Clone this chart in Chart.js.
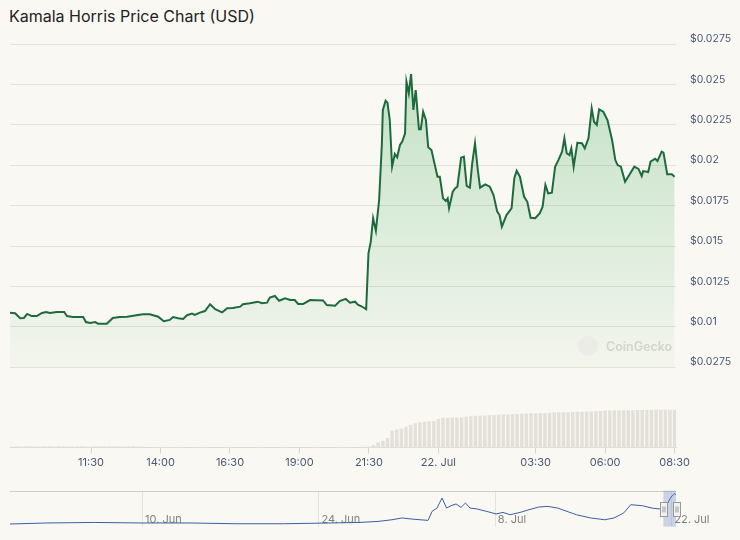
<!DOCTYPE html>
<html><head><meta charset="utf-8">
<script src="https://cdn.jsdelivr.net/npm/chart.js@4/dist/chart.umd.min.js"></script>
<style>
html,body{margin:0;padding:0;background:#faf8f3;}
#wrap{position:relative;width:740px;height:540px;overflow:hidden;background:#faf8f3;font-family:Inter,'Noto Sans',sans-serif;}
#title{position:absolute;left:9px;top:6px;font-size:16px;line-height:20px;color:#222;font-family:Inter,sans-serif;white-space:nowrap;}
canvas{position:absolute;left:0;}
#cPrice{top:30px;}
#cVol{top:360px;}
#cNav{top:485px;}
#cg{position:absolute;left:578px;top:336px;height:20px;display:flex;align-items:center;gap:8px;}
#cg .dot{width:20px;height:20px;border-radius:50%;background:#ebebe8;display:inline-block;}
#cg .txt{font:600 12.5px Inter,sans-serif;color:#d3d3d1;}
</style></head>
<body><div id="wrap">
<div id="title">Kamala Horris Price Chart (USD)</div>
<canvas id="cPrice" width="740" height="345"></canvas>
<div id="cg"><span class="dot"></span><span class="txt">CoinGecko</span></div>
<canvas id="cVol" width="740" height="120"></canvas>
<canvas id="cNav" width="740" height="50"></canvas>
</div>
<script>
// ---- price series (minutes since 21 Jul 00:00, USD) ----
const priceTimes = [515,526,537,545,552,562,573,584,593,601,616,632,638,651,673,679,688,699,705,724,
737,752,768,781,802,817,835,847,860,867,878,889,897,908,914,925,936,947,958,973,
984,996,1012,1018,1033,1050,1059,1070,1076,1087,1096,1109,1120,1130,1137,1148,1163,1191,1199,1217,
1227,1240,1249,1260,1266,1275,1284,1289,1294,1299,1305,1312,1318,1320,1326,1330,1335,1340,1346,1351,
1357,1362,1368,1371,1376,1381,1386,1391,1398,1402,1407,1413,1418,1425,1438,1443,1450,1456,1460,1463,
1471,1476,1481,1489,1495,1501,1508,1513,1519,1525,1530,1541,1551,1559,1567,1572,1577,1587,1598,1604,
1609,1616,1625,1632,1639,1649,1659,1665,1671,1677,1685,1692,1699,1707,1712,1717,1723,1727,1732,1740,
1750,1756,1764,1771,1776,1782,1787,1796,1805,1815,1822,1827,1834,1843,1852,1863,1872,1879,1882,1893,
1898,1908,1913,1922,1926,1934,1944,1950];
const prices = [0.01088,0.01084,0.01053,0.01055,0.01080,0.01067,0.01067,0.01086,0.01092,0.01086,0.01092,0.01092,0.01067,0.01061,0.01061,0.01030,0.01024,0.01030,0.01020,0.01020,
0.01055,0.01061,0.01063,0.01069,0.01078,0.01078,0.01063,0.01035,0.01043,0.01061,0.01053,0.01049,0.01072,0.01082,0.01074,0.01088,0.01098,0.01140,0.01109,0.01090,
0.01115,0.01117,0.01125,0.01140,0.01146,0.01156,0.01146,0.01150,0.01181,0.01191,0.01162,0.01177,0.01166,0.01166,0.01142,0.01142,0.01166,0.01164,0.01135,0.01131,
0.01160,0.01173,0.01150,0.01156,0.01137,0.01126,0.01109,0.01455,0.01527,0.01672,0.01595,0.01785,0.02136,0.02342,0.02399,0.02387,0.02280,0.01991,0.02070,0.02049,
0.02125,0.02146,0.02198,0.02517,0.02445,0.02564,0.02342,0.02465,0.02222,0.02222,0.02331,0.02280,0.02111,0.02094,0.01929,0.01929,0.01795,0.01779,0.01795,0.01734,
0.01836,0.01857,0.01867,0.02047,0.02053,0.01872,0.01861,0.02012,0.02136,0.01971,0.01861,0.01882,0.01867,0.01816,0.01713,0.01692,0.01620,0.01692,0.01734,0.01921,
0.01966,0.01929,0.01805,0.01774,0.01675,0.01672,0.01703,0.01744,0.01878,0.01826,0.01830,0.01991,0.02032,0.02084,0.02167,0.02074,0.02063,0.02105,0.01991,0.02139,
0.02136,0.02105,0.02167,0.02352,0.02269,0.02249,0.02346,0.02331,0.02280,0.02156,0.02032,0.02001,0.01991,0.01898,0.01940,0.01991,0.01977,0.01933,0.01964,0.01958,
0.02022,0.02040,0.02026,0.02084,0.02078,0.01944,0.01944,0.01929];

// ---- volume bars (10-minute bars starting 08:40) ----
const volStartMinute = 520;
const volStepMinutes = 10;
const volumes = [1.6,1.8,1.5,1.7,1.9,1.6,1.5,1.8,1.7,1.6,1.9,1.8,1.5,1.6,1.7,1.8,1.6,1.5,1.7,1.9,1.6,1.8,1.7,1.5,1.6,1.8,1.7,1.6,1.5,
0.4,0.3,0.4,0.5,0.4,0.3,0.4,0.4,0.5,0.3,0.4,0.4,0.3,0.5,0.4,0.4,0.3,0.4,0.5,0.4,0.3,0.4,0.4,0.3,0.4,0.5,0.4,0.3,0.4,0.4,0.5,0.4,0.3,0.4,0.4,0.3,0.5,0.4,0.4,0.3,0.4,0.4,0.5,0.4,0.3,0.4,0.4,0.5,
1.5,3.5,6.5,8.5,12,21,22.5,24,26,28.5,30.5,31.5,32.3,32.8,33.2,35.6,37.2,37.3,37.5,37.6,37.8,38.4,39.0,39.6,39.8,40.0,40.3,40.6,40.9,41.2,41.4,41.6,41.9,42.2,42.5,42.7,42.9,43.1,43.3,43.5,43.8,44.0,44.1,44.2,44.4,44.6,44.8,45.0,45.1,45.3,45.5,46.3,46.4,46.5,46.5,46.6,46.6,46.7,46.8,46.8,47.0,47.1,47.1,47.2,47.2,47.2,47.3];

// ---- axes ----
const timeMin = 515, timeMax = 1953;
const timeTickValues = [690,840,990,1140,1290,1440,1650,1800,1950];
const timeTickLabels = ['11:30','14:00','16:30','19:00','21:30','22. Jul','03:30','06:00','08:30'];
const priceTickValues = [0.0075,0.01,0.0125,0.015,0.0175,0.02,0.0225,0.025,0.0275];
const priceTickLabels = ['$0.0275','$0.01','$0.0125','$0.015','$0.0175','$0.02','$0.0225','$0.025','$0.0275'];

// ---- navigator (days counted from 1 Jun; July = 30 + day) ----
const navDays = [-0.5,2.46,6.23,10,13.73,17.46,21.23,25.0,27.22,28.73,29.84,30.63,31.35,32.7,33.02,33.41,33.81,34.17,34.52,34.92,
35.32,35.67,36.03,36.59,37.36,38.1,38.65,39.21,40.0,40.71,41.48,42.22,42.98,43.73,44.48,45.6,46.73,47.46,48.23,48.79,
49.73,50.48,51.03,51.59,51.98,52.28,52.38];
const navPrices = [0.0021,0.0029,0.0033,0.0029,0.0029,0.0023,0.0023,0.0029,0.0033,0.0041,0.0054,0.0068,0.0060,0.0049,0.0119,0.0145,0.0223,0.0145,0.0163,0.0177,
0.0150,0.0184,0.0145,0.0138,0.0119,0.0099,0.0111,0.0093,0.0111,0.0132,0.0153,0.0158,0.0145,0.0119,0.0093,0.0068,0.0054,0.0068,0.0107,0.0171,
0.0163,0.0145,0.0138,0.0158,0.0231,0.0257,0.0249];
const navMin = -0.48, navMax = 52.38;
const navTickDays = [10,24,38,52];
const navTickLabels = ['10. Jun','24. Jun','8. Jul','22. Jul'];
const navSelStart = 51.38, navSelEnd = 52.38;

const FONT = 'Inter, "Noto Sans", sans-serif';
const LABEL_COLOR = '#4b5875';

// ---- price chart ----
new Chart(document.getElementById('cPrice'), {
  type: 'line',
  data: { datasets: [{
    data: priceTimes.map((t, i) => ({ x: t, y: prices[i] })),
    borderColor: '#1e6a3c', borderWidth: 2, pointRadius: 0, tension: 0,
    fill: 'start',
    backgroundColor: (ctx) => {
      const a = ctx.chart.chartArea;
      if (!a) return 'rgba(52,168,83,0.15)';
      const g = ctx.chart.ctx.createLinearGradient(0, a.top, 0, a.bottom);
      g.addColorStop(0, 'rgba(52,168,83,0.30)');
      g.addColorStop(1, 'rgba(52,168,83,0.03)');
      return g;
    }
  }]},
  options: {
    responsive: false, animation: false,
    layout: { padding: { left: 10, right: 0, top: 14, bottom: 7.7 } },
    plugins: { legend: { display: false }, tooltip: { enabled: false } },
    scales: {
      x: { type: 'linear', display: false, min: timeMin, max: timeMax },
      y: {
        position: 'right', min: 0.0075, max: 0.0275,
        afterBuildTicks: (s) => { s.ticks = priceTickValues.map(v => ({ value: v })); },
        afterFit: (s) => { s.width = 64; s.paddingTop = 0; s.paddingBottom = 0; },
        grid: { color: '#e4e1db', drawTicks: false },
        border: { display: false },
        ticks: { padding: 14, labelOffset: -5, color: LABEL_COLOR, font: { family: FONT, size: 10.5 },
                 callback: (v, i) => priceTickLabels[i] }
      }
    }
  }
});

// ---- volume chart with time axis ----
new Chart(document.getElementById('cVol'), {
  type: 'bar',
  data: { datasets: [{
    data: volumes.map((v, i) => ({ x: volStartMinute + i * volStepMinutes, y: v })),
    backgroundColor: '#e3e0da', borderWidth: 0, barPercentage: 0.75, categoryPercentage: 1
  }]},
  options: {
    responsive: false, animation: false,
    layout: { padding: { left: 10, right: 64, top: 7.3, bottom: 12.3 } },
    plugins: { legend: { display: false }, tooltip: { enabled: false } },
    scales: {
      x: {
        type: 'linear', min: timeMin, max: timeMax, offset: false,
        afterBuildTicks: (s) => { s.ticks = timeTickValues.map(v => ({ value: v })); },
        afterFit: (s) => { s.height = 20; },
        grid: { offset: false, drawOnChartArea: false, drawTicks: true, tickLength: 6, color: '#d9d6d0' },
        border: { display: true, color: '#dedbd5' },
        ticks: { autoSkip: false, maxRotation: 0, padding: 2, color: LABEL_COLOR, font: { family: FONT, size: 11 },
                 callback: (v, i) => timeTickLabels[i] }
      },
      y: { display: false, min: 0, max: 100 }
    }
  }
});

// ---- navigator ----
const navPlugin = {
  id: 'nav',
  beforeDatasetsDraw(chart) {
    const { ctx, chartArea: a, scales: { x } } = chart;
    ctx.save();
    ctx.strokeStyle = '#e4e2de'; ctx.lineWidth = 1;
    navTickDays.forEach(d => {
      const px = Math.round(x.getPixelForValue(d)) + 0.5;
      ctx.beginPath(); ctx.moveTo(px, a.top); ctx.lineTo(px, a.bottom); ctx.stroke();
    });
    ctx.strokeStyle = '#cfcdc9';
    ctx.beginPath(); ctx.moveTo(a.left, Math.round(a.top) + 0.5); ctx.lineTo(a.right, Math.round(a.top) + 0.5); ctx.stroke();
    ctx.fillStyle = '#7f7f7f'; ctx.font = '11px ' + FONT; ctx.textBaseline = 'middle'; ctx.textAlign = 'left';
    navTickDays.forEach((d, i) => {
      ctx.fillText(navTickLabels[i], x.getPixelForValue(d) + 3, a.bottom - 6.7);
    });
    ctx.restore();
  },
  afterDatasetsDraw(chart) {
    const { ctx, chartArea: a, scales: { x } } = chart;
    const x0 = x.getPixelForValue(navSelStart), x1 = x.getPixelForValue(navSelEnd);
    ctx.save();
    ctx.fillStyle = 'rgba(102,133,194,0.32)';
    ctx.fillRect(x0, a.top, x1 - x0, a.bottom - a.top);
    const cy = (a.top + a.bottom) / 2;
    [x0, x1].forEach(px => {
      const hx = Math.round(px - 3.5) + 0.5, hy = Math.round(cy - 7) + 0.5;
      ctx.fillStyle = '#f2f2f2'; ctx.strokeStyle = '#999'; ctx.lineWidth = 1;
      ctx.fillRect(hx, hy, 7, 14); ctx.strokeRect(hx, hy, 7, 14);
      ctx.beginPath();
      ctx.moveTo(hx + 2.5, hy + 4); ctx.lineTo(hx + 2.5, hy + 10);
      ctx.moveTo(hx + 4.5, hy + 4); ctx.lineTo(hx + 4.5, hy + 10);
      ctx.stroke();
    });
    ctx.restore();
  }
};
new Chart(document.getElementById('cNav'), {
  type: 'line',
  data: { datasets: [{
    data: navDays.map((d, i) => ({ x: d, y: navPrices[i] })),
    borderColor: '#3d5ea6', borderWidth: 1, pointRadius: 0, tension: 0, fill: false
  }]},
  options: {
    responsive: false, animation: false,
    layout: { padding: { left: 10, right: 64, top: 5.7, bottom: 8.3 } },
    plugins: { legend: { display: false }, tooltip: { enabled: false } },
    scales: {
      x: { type: 'linear', display: false, min: navMin, max: navMax },
      y: { display: false, min: 0, max: 0.028 }
    }
  },
  plugins: [navPlugin]
});
</script>
</body></html>
